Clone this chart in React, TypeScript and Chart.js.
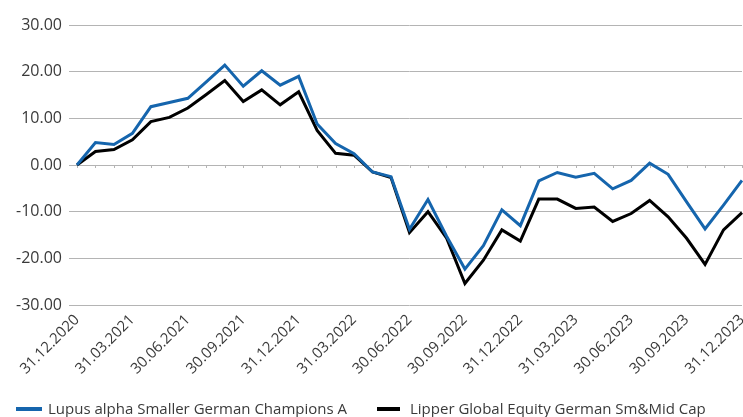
import React, { useEffect, useRef } from "react";
import { Chart, registerables } from "chart.js";

Chart.register(...registerables);

const dates = [
  "31.12.2020", "31.01.2021", "28.02.2021", "31.03.2021", "30.04.2021", "31.05.2021",
  "30.06.2021", "31.07.2021", "31.08.2021", "30.09.2021", "31.10.2021", "30.11.2021",
  "31.12.2021", "31.01.2022", "28.02.2022", "31.03.2022", "30.04.2022", "31.05.2022",
  "30.06.2022", "31.07.2022", "31.08.2022", "30.09.2022", "31.10.2022", "30.11.2022",
  "31.12.2022", "31.01.2023", "28.02.2023", "31.03.2023", "30.04.2023", "31.05.2023",
  "30.06.2023", "31.07.2023", "31.08.2023", "30.09.2023", "31.10.2023", "30.11.2023",
  "31.12.2023",
];

const fundName = "Lupus alpha Smaller German Champions A";
const peerName = "Lipper Global Equity German Sm&Mid Cap";

const fundValues = [
  0, 4.8, 4.4, 6.8, 12.5, 13.4, 14.3, 17.8, 21.4, 16.9, 20.2, 17.1, 19.0,
  8.8, 4.6, 2.4, -1.5, -2.5, -13.8, -7.4, -15.2, -22.3, -17.3, -9.6, -13.0,
  -3.4, -1.6, -2.6, -1.8, -5.1, -3.3, 0.4, -2.0, -7.9, -13.7, -8.6, -3.3,
];

const peerValues = [
  0, 2.9, 3.3, 5.4, 9.3, 10.2, 12.2, 15.1, 18.1, 13.6, 16.1, 12.9, 15.7,
  7.4, 2.5, 2.1, -1.5, -2.7, -14.5, -10.0, -15.6, -25.4, -20.4, -13.9, -16.3,
  -7.3, -7.3, -9.3, -9.0, -12.1, -10.4, -7.6, -11.1, -15.7, -21.3, -13.9, -10.2,
];

const yMin = -30;
const yMax = 30;
const yStep = 10;

const BLUE = "#1565ad";
const BLACK = "#000000";
const GRID = "#b4b4b4";
const TEXT = "#3a3a3a";
const FONT = "'Open Sans', 'Noto Sans', sans-serif";

const zeroTicks = {
  id: "zeroTicks",
  beforeDatasetsDraw(chart: any) {
    const x = chart.scales.x;
    const y = chart.scales.y;
    const y0 = y.getPixelForValue(0);
    const ctx = chart.ctx;
    ctx.save();
    ctx.strokeStyle = GRID;
    ctx.lineWidth = 1;
    for (let i = 0; i < dates.length; i++) {
      const px = Math.round(x.getPixelForValue(i)) + 0.5;
      ctx.beginPath();
      ctx.moveTo(px, y0);
      ctx.lineTo(px, y0 + 3);
      ctx.stroke();
    }
    ctx.restore();
  },
};

export default function App() {
  const ref = useRef<HTMLCanvasElement | null>(null);

  useEffect(() => {
    document.body.style.margin = "0";
    if (!ref.current) return;
    const chart = new Chart(ref.current, {
      type: "line",
      data: {
        labels: dates,
        datasets: [
          {
            label: fundName,
            data: fundValues,
            borderColor: BLUE,
            backgroundColor: BLUE,
            borderWidth: 3,
            pointRadius: 0,
            tension: 0,
          },
          {
            label: peerName,
            data: peerValues,
            borderColor: BLACK,
            backgroundColor: BLACK,
            borderWidth: 3,
            pointRadius: 0,
            tension: 0,
          },
        ],
      },
      options: {
        animation: false,
        responsive: false,
        maintainAspectRatio: false,
        layout: { padding: { top: 25, right: 1, left: 0, bottom: 0 } },
        plugins: {
          legend: { display: false },
          tooltip: { enabled: false },
        },
        scales: {
          x: {
            offset: false,
            grid: { display: false, drawTicks: false },
            border: { display: false },
            ticks: {
              autoSkip: false,
              maxRotation: 45,
              minRotation: 45,
              padding: 6,
              color: TEXT,
              font: { family: FONT, size: 15 },
              callback: (_v: any, i: number) => (i % 3 === 0 ? dates[i] : ""),
            },
            afterFit: (s: any) => {
              s.height = 112;
              s.paddingRight = 0;
              s.paddingLeft = 0;
            },
          },
          y: {
            min: yMin,
            max: yMax,
            grid: { color: GRID, lineWidth: 1, drawTicks: true, tickLength: 8 },
            border: { display: false },
            ticks: {
              stepSize: yStep,
              padding: 7,
              color: TEXT,
              font: { family: FONT, size: 16 },
              callback: (v: any) => Number(v).toFixed(2),
            },
            afterFit: (s: any) => {
              s.width = 77;
            },
          },
        },
      },
      plugins: [zeroTicks],
    });
    return () => chart.destroy();
  }, []);

  const legendText: React.CSSProperties = {
    position: "absolute",
    top: 397,
    fontFamily: FONT,
    fontSize: 15,
    lineHeight: "22px",
    color: TEXT,
    whiteSpace: "nowrap",
  };

  return (
    <div style={{ position: "relative", width: 743, height: 417 }}>
      <canvas ref={ref} width={743} height={417} style={{ display: "block" }} />
      <div style={{ position: "absolute", left: 16, top: 407, width: 26, height: 4, background: BLUE }} />
      <div style={{ ...legendText, left: 48 }}>{fundName}</div>
      <div style={{ position: "absolute", left: 377, top: 407, width: 23, height: 4, background: BLACK }} />
      <div style={{ ...legendText, left: 410 }}>{peerName}</div>
    </div>
  );
}
